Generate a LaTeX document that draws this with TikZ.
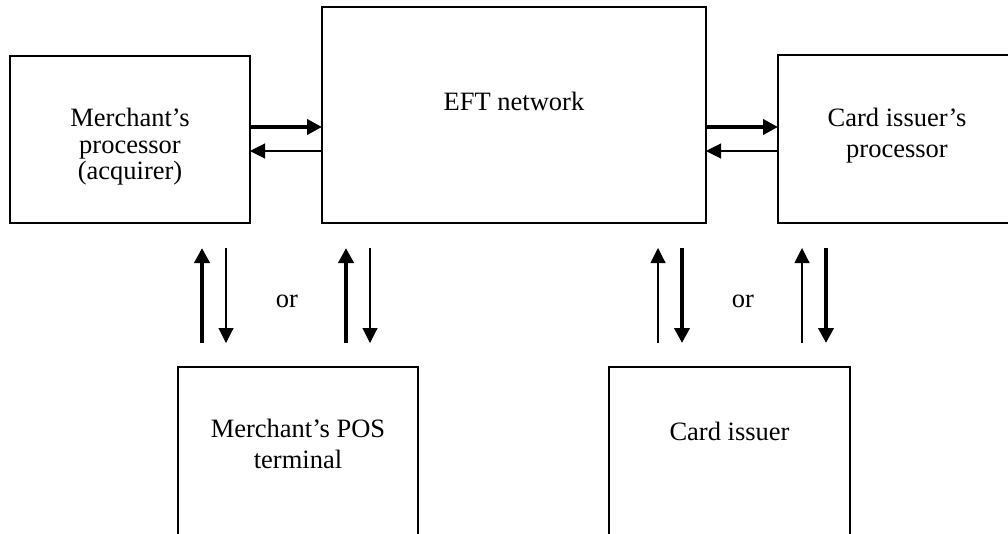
\documentclass[tikz,border=0pt]{standalone}
\usepackage{fontspec}
\setmainfont{Liberation Serif}
\usetikzlibrary{arrows.meta}
\begin{document}
\begin{tikzpicture}[x=1pt,y=-1pt,
  box/.style={draw, line width=1.5pt, inner sep=0pt, outer sep=0pt},
  txt/.style={align=center, inner sep=0pt, font=\fontsize{26.5}{31}\selectfont},
  txttight/.style={align=center, inner sep=0pt, font=\fontsize{26.5}{26.5}\selectfont},
  bigarr/.style={line width=4pt, -{Triangle[width=15pt,length=15pt]}},
  smallarr/.style={line width=1.1pt, -{Triangle[width=15pt,length=15pt]}}]
\useasboundingbox (0,0) rectangle (1008,533);
\clip (0,0) rectangle (1008,533);
% boxes
\node[box, minimum width=240pt, minimum height=167pt] (mp) at (130,139.5) {};
\node[box, minimum width=384pt, minimum height=216pt] (eft) at (514,115) {};
\node[box, minimum width=238pt, minimum height=168pt] (cip) at (897,139) {};
\node[box, minimum width=240pt, minimum height=233pt] (pos) at (298,483.5) {};
\node[box, minimum width=241pt, minimum height=233pt] (ci) at (729.5,483.5) {};
% texts
\node[txttight] (mpt) at (130,147) {Merchant’s\\processor\\(acquirer)};
\node[txt, anchor=base] (eftt) at (514,110) {EFT network};
\node[txt] (cipt) at (897,136) {Card issuer’s\\processor};
\node[txt] (post) at (298,444) {Merchant’s POS\\terminal};
\node[txt, anchor=base] (cit) at (729.5,440) {Card issuer};
\node[txt, anchor=base] (or1) at (287,307) {or};
\node[txt, anchor=base] (or2) at (743,307) {or};
% horizontal arrows
\coordinate (hA) at (0,127);
\coordinate (hB) at (0,151);
\draw[bigarr] (mp.east |- hA) -- (eft.west |- hA);
\draw[smallarr] (eft.west |- hB) -- (mp.east |- hB);
\draw[bigarr] (eft.east |- hA) -- (cip.west |- hA);
\draw[smallarr] (cip.west |- hB) -- (eft.east |- hB);
% vertical arrows
\coordinate (l1b) at (202,343); \coordinate (l1t) at (202,248);
\coordinate (l2b) at (226,343); \coordinate (l2t) at (226,248);
\coordinate (l3b) at (346,343); \coordinate (l3t) at (346,248);
\coordinate (l4b) at (370,343); \coordinate (l4t) at (370,248);
\coordinate (r1b) at (658,343); \coordinate (r1t) at (658,248);
\coordinate (r2b) at (682,343); \coordinate (r2t) at (682,248);
\coordinate (r3b) at (802,343); \coordinate (r3t) at (802,248);
\coordinate (r4b) at (826,343); \coordinate (r4t) at (826,248);
\draw[bigarr] (l1b) -- (l1t);
\draw[smallarr] (l2t) -- (l2b);
\draw[bigarr] (l3b) -- (l3t);
\draw[smallarr] (l4t) -- (l4b);
\draw[smallarr] (r1b) -- (r1t);
\draw[bigarr] (r2t) -- (r2b);
\draw[smallarr] (r3b) -- (r3t);
\draw[bigarr] (r4t) -- (r4b);
\end{tikzpicture}
\end{document}
